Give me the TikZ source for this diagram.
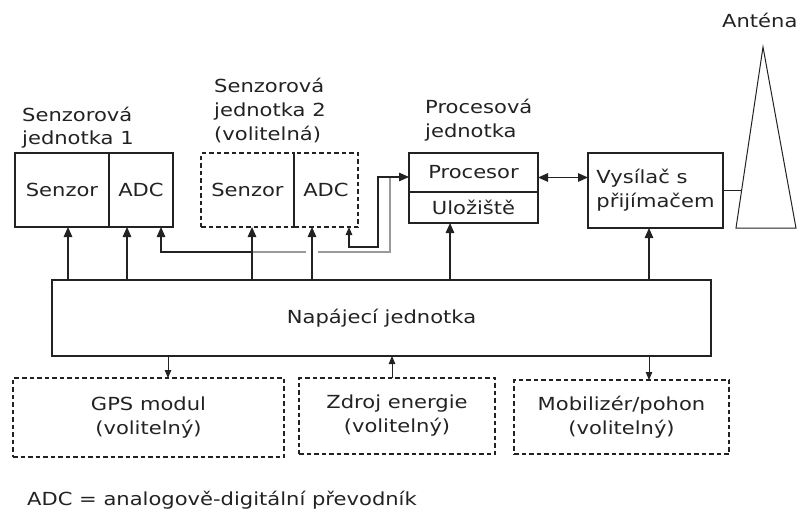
\documentclass[tikz,border=0pt]{standalone}
\usepackage{fontspec}
\setmainfont{DejaVu Sans}[FakeStretch=1.17]
\usetikzlibrary{positioning,arrows.meta,calc}
\definecolor{ink}{HTML}{222222}
\definecolor{wire}{HTML}{9A9A9A}
\newcommand\blkfont{\fontsize{18}{24}\selectfont}
\tikzset{
  tip/.tip={Triangle[length=10pt,width=8.5pt]},
  stip/.tip={Triangle[length=8pt,width=6.5pt]},
  arr/.style={-tip, line width=1.3pt, color=ink},
  sarr/.style={-stip, line width=1pt, color=ink},
  wireline/.style={line width=1.3pt, color=wire},
  blk/.style={draw=ink, line width=1.3pt, minimum height=74pt, inner sep=0pt,
              outer sep=0pt, text=ink, font=\blkfont, align=center},
  opt/.style={blk, dash pattern=on 4.5pt off 3pt},
  lbl/.style={anchor=base west, align=left, inner sep=0pt, text=ink, font=\blkfont},
}

\begin{document}
\begin{tikzpicture}[x=1pt, y=-1pt, node distance=0pt]
  \useasboundingbox (0,0) rectangle (803,516);
  % sensor units
  \node[blk, minimum width=94pt]                    (sen1) at (62,190) {Senzor};
  \node[blk, minimum width=64pt, right=of sen1]     (adc1) {ADC};
  \node[opt, minimum width=93pt]                    (sen2) at (247.5,190) {Senzor};
  \node[opt, minimum width=64pt, right=of sen2]     (adc2) {ADC};
  % processing and radio
  \node[blk, minimum width=129pt, minimum height=39pt] (proc) at (473.5,172.5) {Procesor};
  \node[blk, minimum width=129pt, minimum height=31pt, below=of proc] (stor) {Uložiště};
  \node[blk, minimum width=135pt, minimum height=75pt, align=left] (trx) at (655.5,190.5) {Vysílač s\\přijímačem};
  % power and optional modules
  \node[blk, minimum width=659pt, minimum height=76pt] (pwr) at (381.5,318) {Napájecí jednotka};
  \node[opt, minimum width=271pt, minimum height=79pt] (gps) at (148.5,417.5) {GPS modul\\(volitelný)};
  \node[opt, minimum width=196pt, minimum height=76pt] (src) at (397,416) {Zdroj energie\\(volitelný)};
  \node[opt, minimum width=215pt, minimum height=74pt] (mob) at (621.5,417) {Mobilizér/pohon\\(volitelný)};

  % labels (base = last line)
  \node[lbl] (lbl1) at (22,145)  {Senzorová\\jednotka 1};
  \node[lbl] (lbl2) at (214,141) {Senzorová\\jednotka 2\\(volitelná)};
  \node[lbl] (lblp) at (425,138) {Procesová\\jednotka};
  \node[lbl] (lbla) at (722,28)  {Anténa};
  \node[lbl] (note) at (27,505)  {ADC = analogově-digitální převodník};

  % antenna
  \coordinate (apex) at (763,47);
  \coordinate (bl) at (736,228);
  \coordinate (br) at (796,228);
  \draw[line width=1pt, ink] (apex) -- (bl) -- (br) -- cycle;
  \coordinate (feed) at ($(bl)!0.21!(apex)$);
  \draw[line width=1pt, ink] (trx.east) -- (trx.east -| feed);

  % signal lines to the processor
  \coordinate (j1) at (252,252);
  \coordinate (j2) at (390,252);
  \coordinate (j3) at (390,177);
  \coordinate (k1) at (378,247);
  \draw[wireline] (j1) -- (j2) -- (j3);
  \draw[white, line width=4pt] ([xshift=-14pt]adc2.south |- j1) ++(-6,0) -- ++(12,0);
  \draw[arr] (j1) -| ([xshift=20pt]adc1.south);
  \draw[arr, stip-tip] ([xshift=23pt]adc2.south) |- (k1) |- ([yshift=-4.5pt]proc.west);
  \draw[arr, tip-tip] ([yshift=-5pt]proc.east) -- ([yshift=-5pt]proc.east -| trx.west);

  % power feeds
  \foreach \n/\dx in {sen1/6, adc1/-14, sen2/4.5, adc2/-14, stor/-23.5, trx/-6.5}
    \draw[arr] ([xshift=\dx pt]\n.south |- pwr.north) -- ([xshift=\dx pt]\n.south);
  \draw[sarr] ([xshift=19.5pt]gps.north |- pwr.south) -- ([xshift=19.5pt]gps.north);
  \draw[sarr] ([xshift=-5pt]src.north) -- ([xshift=-5pt]src.north |- pwr.south);
  \draw[sarr] ([xshift=27.5pt]mob.north |- pwr.south) -- ([xshift=27.5pt]mob.north);
\end{tikzpicture}
\end{document}
